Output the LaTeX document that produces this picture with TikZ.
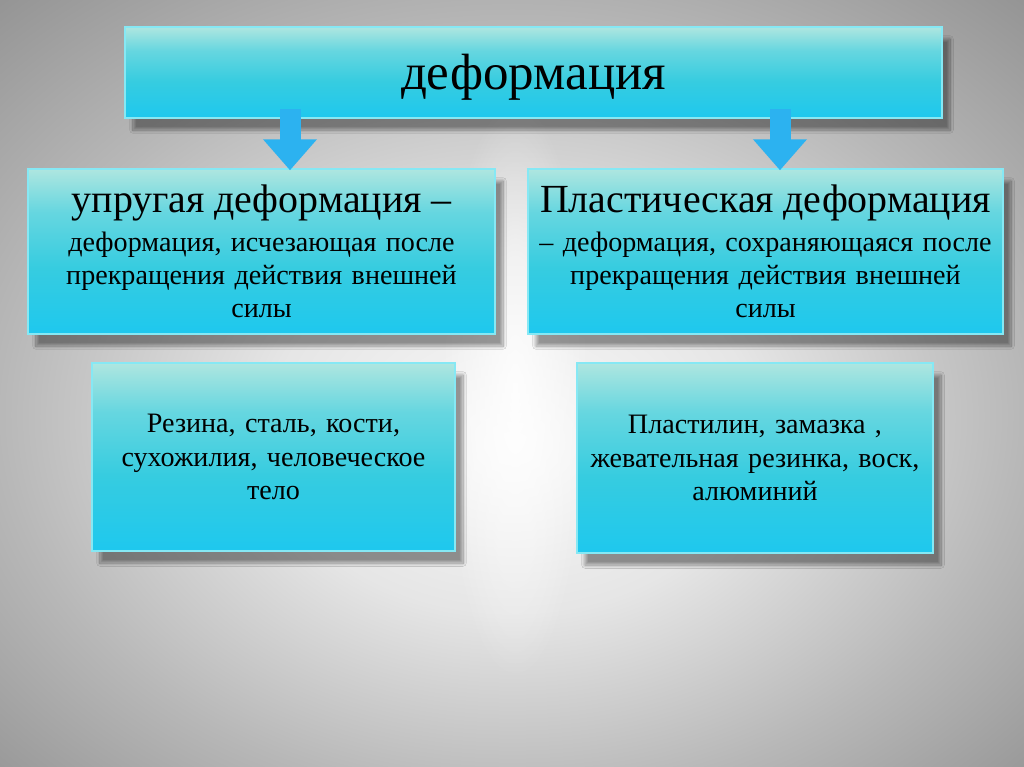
\documentclass[tikz,border=0pt]{standalone}
\usepackage{fontspec}
\setmainfont{Liberation Serif}
\usetikzlibrary{arrows.meta,shadows.blur,fadings}
\definecolor{kastenOben}{HTML}{AEE6E0}
\definecolor{kastenMitte}{HTML}{36CCE0}
\definecolor{kastenUnten}{HTML}{1EC8EE}
\definecolor{kastenRand}{HTML}{86E8F4}
\definecolor{pfeilfarbe}{HTML}{2CB2F0}
\pgfdeclareverticalshading{kastenshade}{100bp}{color(0bp)=(kastenUnten); color(25bp)=(kastenUnten); color(45bp)=(kastenMitte); color(62bp)=(kastenMitte!60!kastenOben); color(75bp)=(kastenOben); color(100bp)=(kastenOben)}
\pgfdeclareradialshading{hintergrund}{\pgfpoint{0bp}{-4bp}}{color(0bp)=(black!2); color(12bp)=(black!10); color(25bp)=(black!28); color(38bp)=(black!44); color(50bp)=(black!44)}
\tikzfading[name=streifen, inner color=transparent!15, outer color=transparent!100]
\begin{document}
\begin{tikzpicture}[x=0.2mm,y=-0.2mm,
	kasten/.style={shading=kastenshade, draw=kastenRand, line width=0.8pt, inner sep=0pt, align=center,
		blur shadow={shadow xshift=1.6mm, shadow yshift=-2.4mm, shadow blur steps=14, shadow opacity=40}},
	pfeil/.style={draw=pfeilfarbe, line width=4.2mm, -{Triangle[length=6.2mm,width=10.4mm]}}]
	
	\shade[shading=hintergrund] (0,0) rectangle (1024,767);%Hintergrund
	\fill[white, path fading=streifen] (440,100) rectangle (590,680);%heller Streifen
	
	\node[kasten, minimum width=163.4mm, minimum height=18.2mm, text height=26pt, text depth=6.5pt, font=\fontsize{29}{34}\selectfont] (deform) at (533.5,72.5) {деформация};
	
	\node[kasten, minimum width=93.4mm, minimum height=33mm, text width=92mm, font=\fontsize{16}{19}\selectfont] (elast) at (261.5,251.5)
		{{\fontsize{22.7}{26}\selectfont упругая деформация –}\\[3pt]деформация, исчезающая после\\прекращения действия внешней\\силы};
	\node[kasten, minimum width=95mm, minimum height=33mm, text width=94.5mm, font=\fontsize{16}{19}\selectfont] (plast) at (765.5,251.5)
		{{\fontsize{22.7}{26}\selectfont Пластическая деформация}\\[3pt]– деформация, сохраняющаяся после\\прекращения действия внешней\\силы};
	
	%Beispiele
	\node[kasten, minimum width=72.6mm, minimum height=37.6mm, text width=71mm, font=\fontsize{16}{19.3}\selectfont] (bspElast) at (273.5,457)
		{Резина, сталь, кости,\\сухожилия, человеческое\\тело};
	\node[kasten, minimum width=71.2mm, minimum height=38mm, text width=70mm, font=\fontsize{16}{19.3}\selectfont] (bspPlast) at (755,458)
		{Пластилин, замазка ,\\жевательная резинка, воск,\\алюминий};
	
	%Pfeile
	\coordinate (pl) at (290,0);
	\coordinate (pr) at (780,0);
	\draw[pfeil] ([yshift=2mm]deform.south -| pl) -- ([yshift=-0.4mm]elast.north -| pl);
	\draw[pfeil] ([yshift=2mm]deform.south -| pr) -- ([yshift=-0.4mm]plast.north -| pr);
\end{tikzpicture}
\end{document}
